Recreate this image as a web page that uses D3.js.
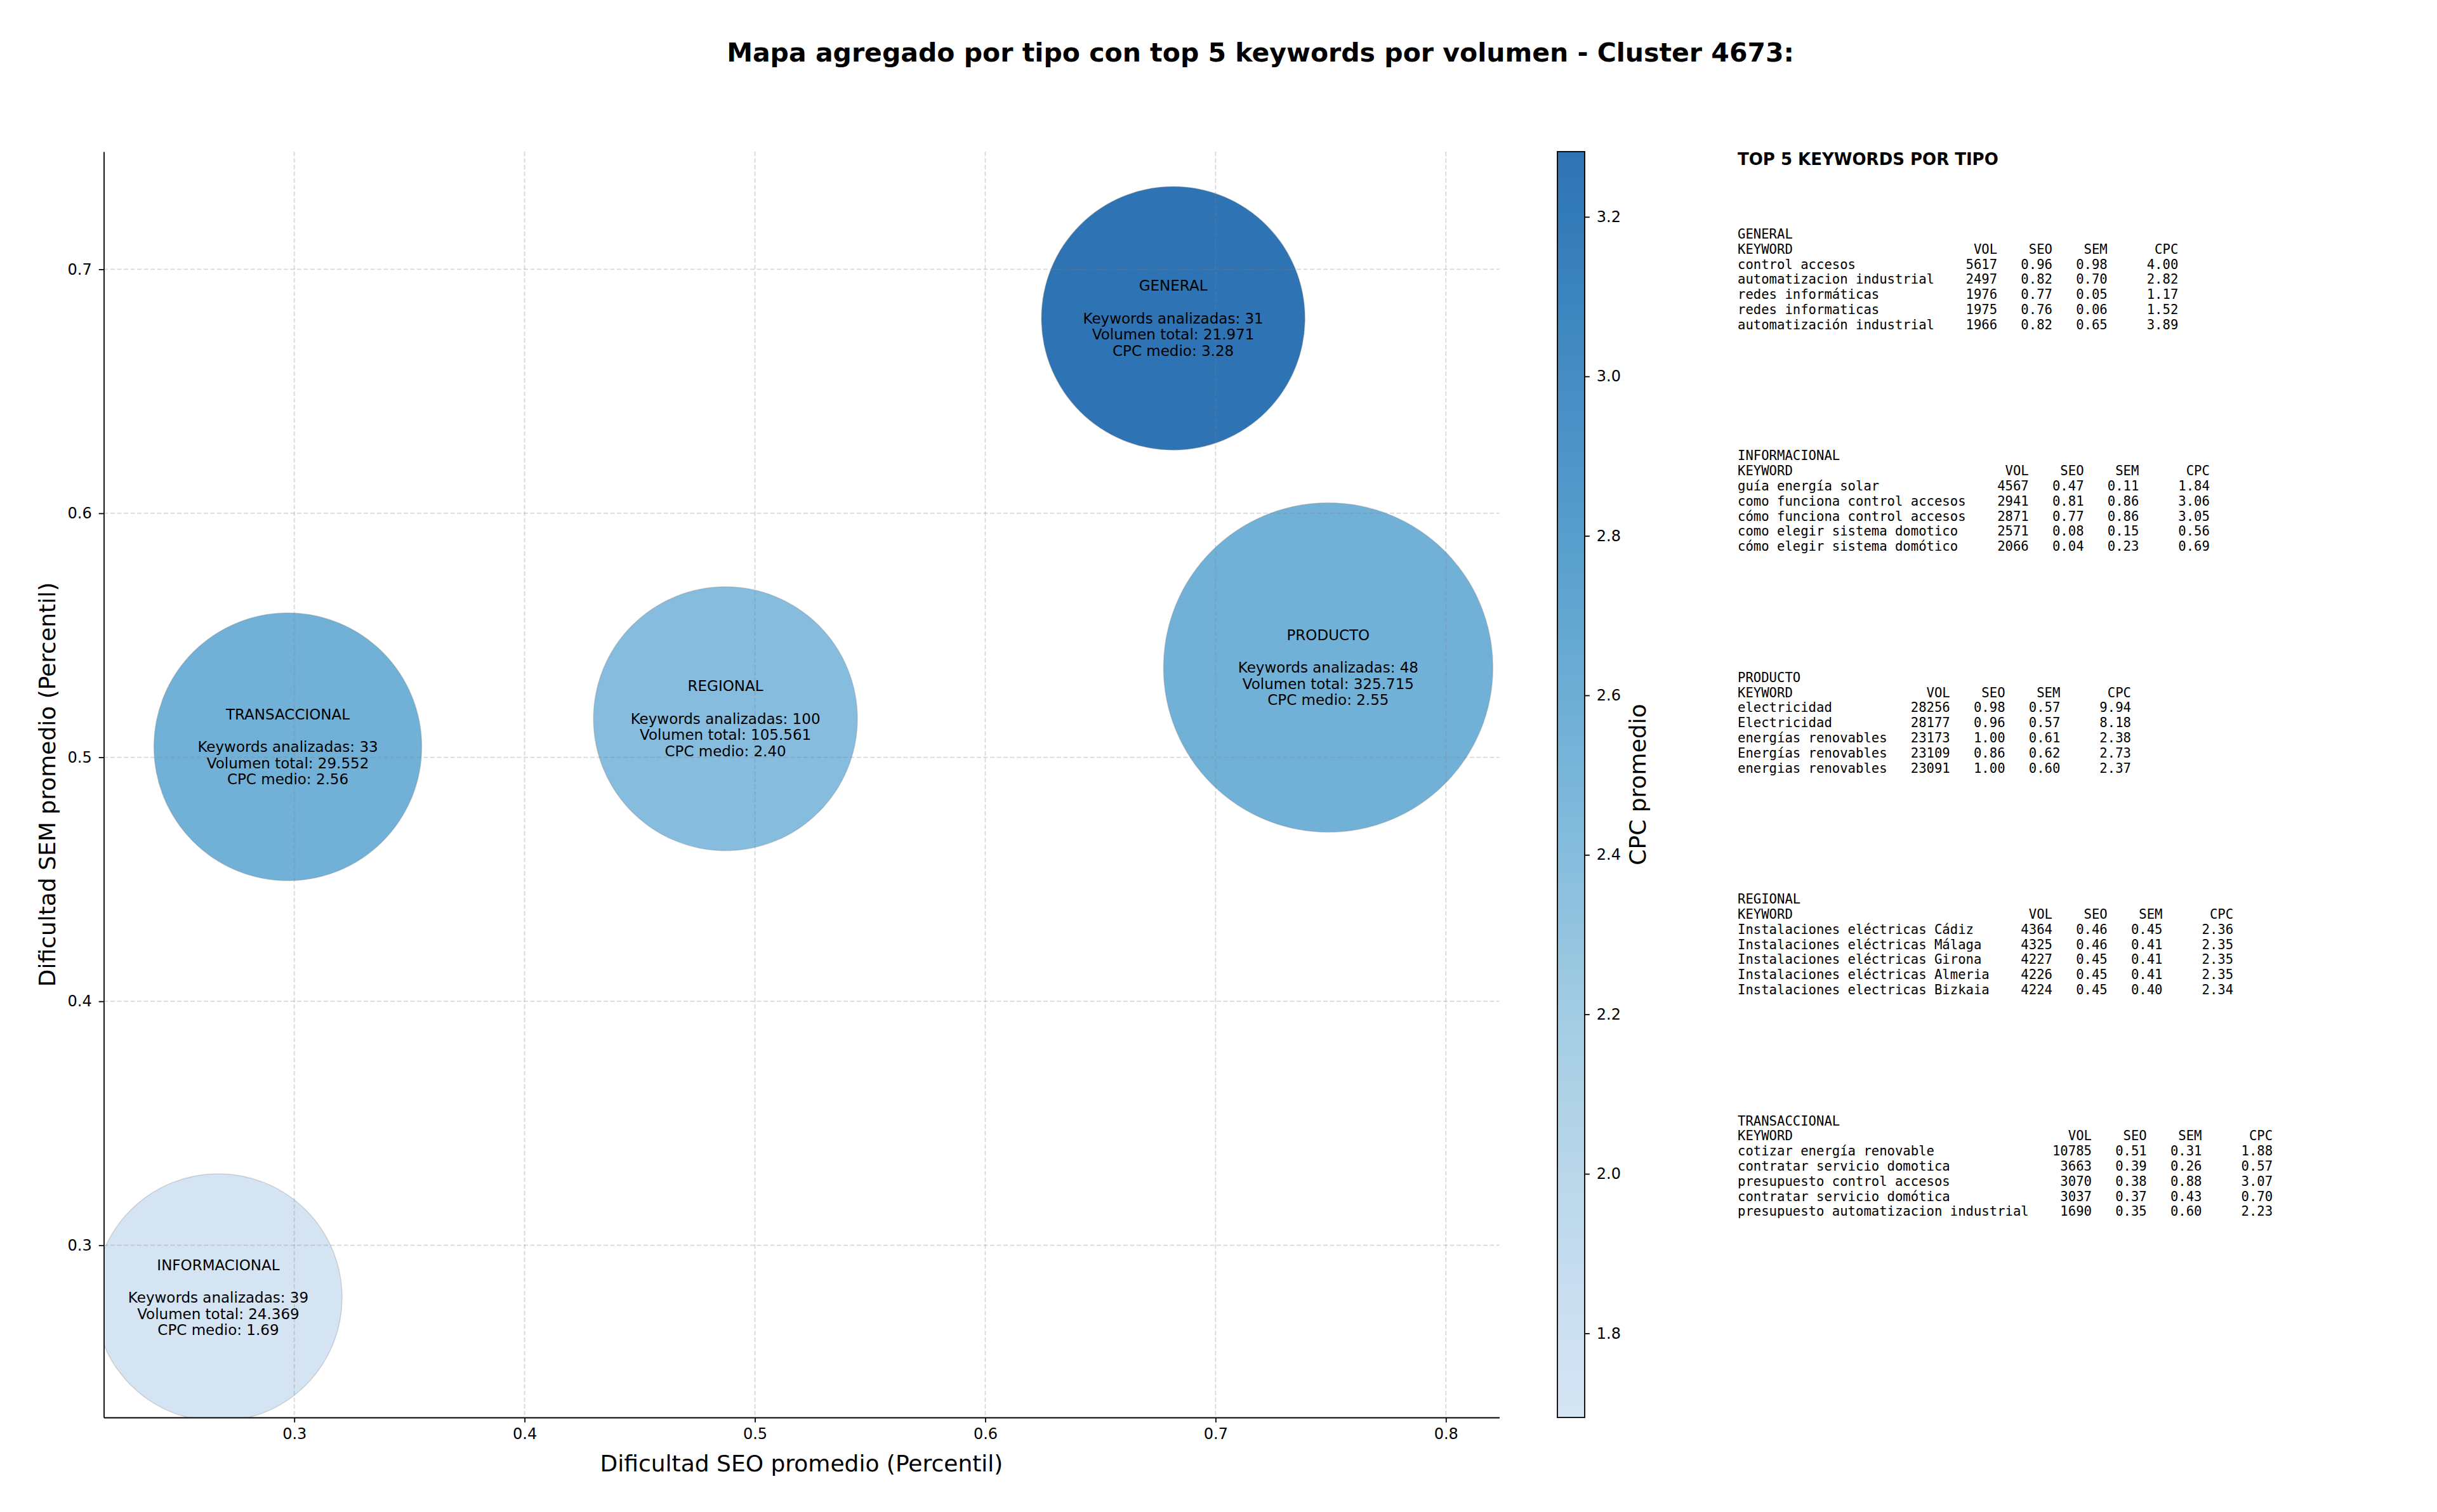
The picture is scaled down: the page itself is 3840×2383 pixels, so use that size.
<!DOCTYPE html>
<html>
<head>
<meta charset="utf-8">
<script src="https://cdn.jsdelivr.net/npm/d3@7"></script>
<style>
  body { margin: 0; background: #fff; }
  text { font-family: "DejaVu Sans", sans-serif; fill: #000; }
  .mono { font-family: "DejaVu Sans Mono", monospace; white-space: pre; }
</style>
</head>
<body>
<svg id="chart" width="3840" height="2383"></svg>
<script>
// datos agregados por tipo
var tipos = ["GENERAL", "INFORMACIONAL", "PRODUCTO", "REGIONAL", "TRANSACCIONAL"];
var seoPromedio = [0.6816, 0.2670, 0.7489, 0.4872, 0.2972];
var semPromedio = [0.6799, 0.2786, 0.5368, 0.5158, 0.5043];
var keywordsAnalizadas = [31, 39, 48, 100, 33];
var volumenTotal = [21971, 24369, 325715, 105561, 29552];
var cpcMedio = [3.2818, 1.6945, 2.55, 2.40, 2.56];
var pesoBurbuja = [0.640, 0.565, 1.0, 0.642, 0.661]; // area relativa

var xTicks = [0.3, 0.4, 0.5, 0.6, 0.7, 0.8];
var yTicks = [0.3, 0.4, 0.5, 0.6, 0.7];
var cbTicks = [1.8, 2.0, 2.2, 2.4, 2.6, 2.8, 3.0, 3.2];

// top 5 keywords: keyword, vol, seo, sem, cpc
var kwGeneral = [
  ["control accesos", 5617, 0.96, 0.98, 4.00],
  ["automatizacion industrial", 2497, 0.82, 0.70, 2.82],
  ["redes informáticas", 1976, 0.77, 0.05, 1.17],
  ["redes informaticas", 1975, 0.76, 0.06, 1.52],
  ["automatización industrial", 1966, 0.82, 0.65, 3.89]
];
var kwInformacional = [
  ["guía energía solar", 4567, 0.47, 0.11, 1.84],
  ["como funciona control accesos", 2941, 0.81, 0.86, 3.06],
  ["cómo funciona control accesos", 2871, 0.77, 0.86, 3.05],
  ["como elegir sistema domotico", 2571, 0.08, 0.15, 0.56],
  ["cómo elegir sistema domótico", 2066, 0.04, 0.23, 0.69]
];
var kwProducto = [
  ["electricidad", 28256, 0.98, 0.57, 9.94],
  ["Electricidad", 28177, 0.96, 0.57, 8.18],
  ["energías renovables", 23173, 1.00, 0.61, 2.38],
  ["Energías renovables", 23109, 0.86, 0.62, 2.73],
  ["energias renovables", 23091, 1.00, 0.60, 2.37]
];
var kwRegional = [
  ["Instalaciones eléctricas Cádiz", 4364, 0.46, 0.45, 2.36],
  ["Instalaciones eléctricas Málaga", 4325, 0.46, 0.41, 2.35],
  ["Instalaciones eléctricas Girona", 4227, 0.45, 0.41, 2.35],
  ["Instalaciones eléctricas Almeria", 4226, 0.45, 0.41, 2.35],
  ["Instalaciones electricas Bizkaia", 4224, 0.45, 0.40, 2.34]
];
var kwTransaccional = [
  ["cotizar energía renovable", 10785, 0.51, 0.31, 1.88],
  ["contratar servicio domotica", 3663, 0.39, 0.26, 0.57],
  ["presupuesto control accesos", 3070, 0.38, 0.88, 3.07],
  ["contratar servicio domótica", 3037, 0.37, 0.43, 0.70],
  ["presupuesto automatizacion industrial", 1690, 0.35, 0.60, 2.23]
];
var tablas = [kwGeneral, kwInformacional, kwProducto, kwRegional, kwTransaccional];


var svg = d3.select("#chart");
svg.append("rect").attr("width", 3840).attr("height", 2383).attr("fill", "#fff");

// area del grafico
var axL = 163.5, axR = 2362.5, axT = 239, axB = 2234;

var x = d3.scaleLinear().domain([0.21728, 0.8232]).range([axL, axR]);
var y = d3.scaleLinear().domain([0.22946, 0.7482]).range([axB, axT]);
var r = d3.scaleSqrt().domain([0, 1]).range([0, 259.5]);

// matplotlib Blues, recortado a [0.2, 0.8], con alpha 0.9
var blues9 = ["#f7fbff","#deebf7","#c6dbef","#9ecae1","#6baed6","#4292c6","#2171b5","#08519c","#08306b"];
var blues = d3.scaleLinear().domain(d3.range(9).map(function(i){ return i / 8; })).range(blues9);
var cpcNorm = d3.scaleLinear().domain(d3.extent(cpcMedio)).range([0.2, 0.8]);
var color = function(v){ return blues(cpcNorm(v)); };
var alpha = 0.9;

var fmtMiles = d3.formatLocale({decimal: ",", thousands: ".", grouping: [3], currency: ["", ""]}).format(",d");
var f2 = d3.format(".2f");

svg.append("clipPath").attr("id", "clipAxes")
  .append("rect").attr("x", axL).attr("y", axT).attr("width", axR - axL).attr("height", axB - axT);

// burbujas
var idx = d3.range(tipos.length);
svg.append("g").attr("clip-path", "url(#clipAxes)")
  .selectAll("circle").data(idx).enter().append("circle")
  .attr("cx", function(i){ return x(seoPromedio[i]); })
  .attr("cy", function(i){ return y(semPromedio[i]); })
  .attr("r", function(i){ return r(pesoBurbuja[i]); })
  .attr("fill", function(i){ return color(cpcMedio[i]); })
  .attr("fill-opacity", alpha)
  .attr("stroke", "#808080").attr("stroke-opacity", 0.3).attr("stroke-width", 1.5);

// rejilla (encima de las burbujas, como en matplotlib)
var grid = svg.append("g").attr("stroke", "#808080").attr("stroke-opacity", 0.3)
  .attr("stroke-width", 1.8).attr("stroke-dasharray", "7,3.5");
grid.selectAll(".gx").data(xTicks).enter().append("line")
  .attr("x1", function(d){ return x(d); }).attr("x2", function(d){ return x(d); })
  .attr("y1", axT).attr("y2", axB);
grid.selectAll(".gy").data(yTicks).enter().append("line")
  .attr("y1", function(d){ return y(d); }).attr("y2", function(d){ return y(d); })
  .attr("x1", axL).attr("x2", axR);

// ejes
var xAxis = svg.append("g").attr("transform", "translate(0," + axB + ")")
  .call(d3.axisBottom(x).tickValues(xTicks).tickFormat(d3.format(".1f")).tickSize(7.8).tickPadding(9).tickSizeOuter(0));
var yAxis = svg.append("g").attr("transform", "translate(" + axL + ",0)")
  .call(d3.axisLeft(y).tickValues(yTicks).tickFormat(d3.format(".1f")).tickSize(7.8).tickPadding(11).tickSizeOuter(0));
[xAxis, yAxis].forEach(function(a){
  a.select(".domain").attr("stroke", "#000").attr("stroke-width", 1.8);
  a.selectAll(".tick line").attr("stroke", "#000").attr("stroke-width", 1.8);
  a.selectAll(".tick text").attr("font-family", "DejaVu Sans").attr("font-size", 24).attr("fill", "#000");
});

// textos de burbujas
idx.forEach(function(i){
  var lineas = [tipos[i], "", "Keywords analizadas: " + keywordsAnalizadas[i],
    "Volumen total: " + fmtMiles(volumenTotal[i]), "CPC medio: " + f2(cpcMedio[i])];
  var t = svg.append("text").attr("text-anchor", "middle").attr("font-size", 23);
  lineas.forEach(function(l, k){
    t.append("tspan").attr("x", x(seoPromedio[i]))
      .attr("y", y(semPromedio[i]) + (k - 2) * 25.7)
      .attr("dominant-baseline", "central").text(l);
  });
});

// etiquetas de ejes
svg.append("text").attr("x", (axL + axR) / 2).attr("y", 2306)
  .attr("text-anchor", "middle").attr("dominant-baseline", "central").attr("font-size", 36)
  .text("Dificultad SEO promedio (Percentil)");
svg.append("text").attr("transform", "translate(74," + ((axT + axB) / 2) + ") rotate(-90)")
  .attr("text-anchor", "middle").attr("dominant-baseline", "central").attr("font-size", 36)
  .text("Dificultad SEM promedio (Percentil)");

// titulo
svg.append("text").attr("x", 1986).attr("y", 83)
  .attr("text-anchor", "middle").attr("dominant-baseline", "central")
  .attr("font-size", 41).attr("font-weight", "bold")
  .text("Mapa agregado por tipo con top 5 keywords por volumen - Cluster 4673:");

// barra de color
var cbX = 2454, cbW = 43;
var cbScale = d3.scaleLinear().domain(d3.extent(cpcMedio)).range([axB, axT]);
var grad = svg.append("defs").append("linearGradient").attr("id", "cbGrad")
  .attr("x1", 0).attr("y1", 1).attr("x2", 0).attr("y2", 0);
d3.range(0, 1.0001, 0.05).forEach(function(p){
  var v = cbScale.domain()[0] + p * (cbScale.domain()[1] - cbScale.domain()[0]);
  grad.append("stop").attr("offset", p).attr("stop-color", color(v)).attr("stop-opacity", alpha);
});
svg.append("rect").attr("x", cbX).attr("y", axT).attr("width", cbW).attr("height", axB - axT)
  .attr("fill", "url(#cbGrad)").attr("stroke", "#000").attr("stroke-width", 1.8);
var cbAxis = svg.append("g").attr("transform", "translate(" + (cbX + cbW) + ",0)")
  .call(d3.axisRight(cbScale).tickValues(cbTicks).tickFormat(d3.format(".1f")).tickSize(7.8).tickPadding(11).tickSizeOuter(0));
cbAxis.select(".domain").remove();
cbAxis.selectAll(".tick line").attr("stroke", "#000").attr("stroke-width", 1.8);
cbAxis.selectAll(".tick text").attr("font-family", "DejaVu Sans").attr("font-size", 24).attr("fill", "#000");
svg.append("text").attr("transform", "translate(2580," + ((axT + axB) / 2) + ") rotate(-90)")
  .attr("text-anchor", "middle").attr("dominant-baseline", "central").attr("font-size", 36)
  .text("CPC promedio");

// panel de texto con las tablas
var panelX = 2738;
svg.append("text").attr("x", panelX).attr("y", 251.4).attr("dominant-baseline", "central")
  .attr("font-size", 26).attr("font-weight", "bold").text("TOP 5 KEYWORDS POR TIPO");

function rj(s, n){ s = String(s); while (s.length < n) s = " " + s; return s; }
function lj(s, n){ s = String(s); while (s.length < n) s = s + " "; return s; }

tablas.forEach(function(tabla, b){
  var ancho = d3.max(tabla, function(d){ return d[0].length; });
  var lineas = [tipos[b], lj("KEYWORD", ancho) + rj("VOL", 8) + rj("SEO", 7) + rj("SEM", 7) + rj("CPC", 9)];
  tabla.forEach(function(d){
    lineas.push(lj(d[0], ancho) + rj(d[1], 8) + rj(f2(d[2]), 7) + rj(f2(d[3]), 7) + rj(f2(d[4]), 9));
  });
  var y0 = 368.9 + b * 349.4;
  var t = svg.append("text").attr("class", "mono").attr("font-size", 20.6);
  lineas.forEach(function(l, k){
    t.append("tspan").attr("x", panelX).attr("y", y0 + k * 23.8)
      .attr("dominant-baseline", "central").text(l);
  });
});
</script>
</body>
</html>
